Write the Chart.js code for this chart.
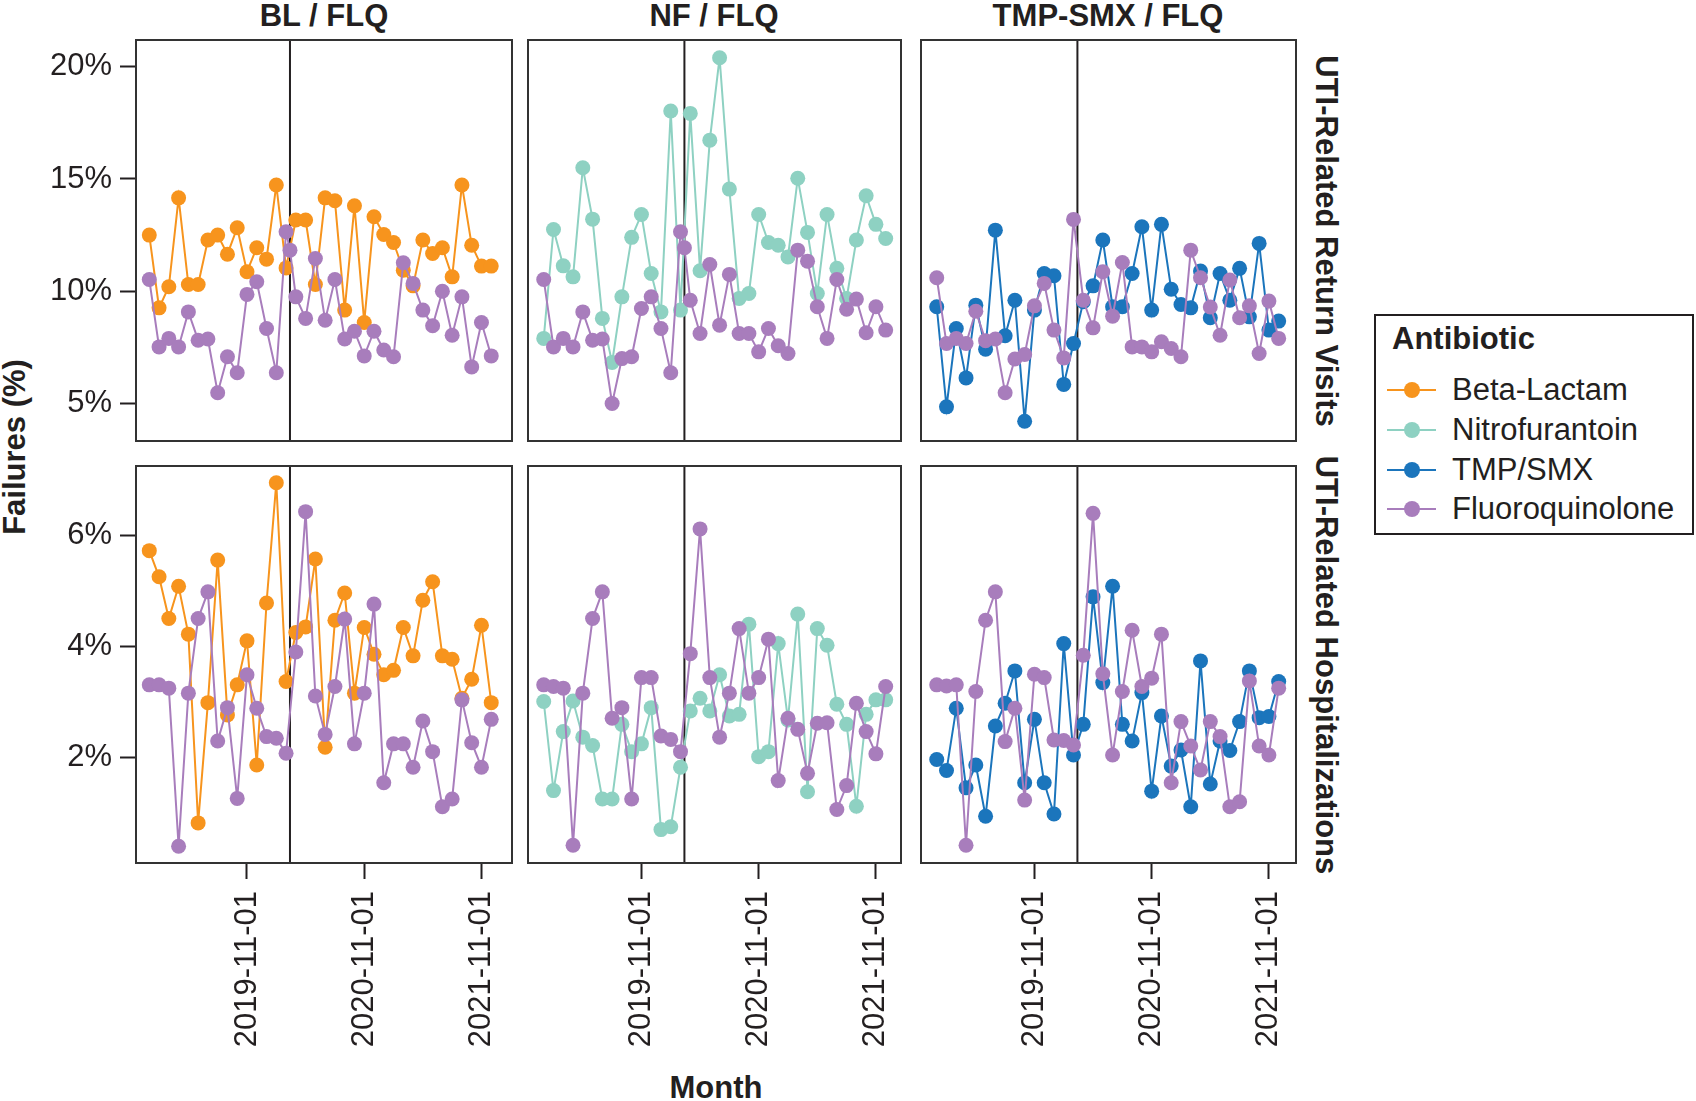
<!DOCTYPE html>
<html>
<head>
<meta charset="utf-8">
<script src="https://cdn.jsdelivr.net/npm/chart.js@4.4.1/dist/chart.umd.min.js"></script>
<style>
  body { margin: 0; background: #fff; }
  #fig { position: relative; width: 1696px; height: 1101px; overflow: hidden;
         font-family: "Liberation Sans", Arial, Helvetica, sans-serif; color: #231f20; }
  #fig canvas { position: absolute; }
  .lbl { position: absolute; white-space: nowrap; font-weight: bold; font-size: 31px; line-height: 1;
         transform: translate(-50%, -50%); }
  .cw { transform: translate(-50%, -50%) rotate(90deg); }
  .ccw { transform: translate(-50%, -50%) rotate(-90deg); }
  #legend { position: absolute; left: 1374px; top: 314px; width: 320px; height: 221px;
            border: 2px solid #231f20; box-sizing: border-box; }
  #legend .ttl { position: absolute; left: 16px; top: 7px; font-weight: bold; font-size: 31px; line-height: 1; }
  #legend .item { position: absolute; left: 0; width: 100%; height: 32px; }
  #legend .ln { position: absolute; left: 11px; top: 15px; width: 49px; height: 2px; }
  #legend .dot { position: absolute; left: 28px; top: 8px; width: 16px; height: 16px; border-radius: 50%; }
  #legend .tx { position: absolute; left: 76px; top: 0; font-size: 31px; line-height: 32px; white-space: nowrap; }
</style>
</head>
<body>
<div id="fig">
  <div class="lbl" style="left:324px; top:15px">BL / FLQ</div>
  <div class="lbl" style="left:714px; top:15px">NF / FLQ</div>
  <div class="lbl" style="left:1108px; top:15px">TMP-SMX / FLQ</div>
  <div class="lbl cw" style="left:1326px; top:241px">UTI-Related Return Visits</div>
  <div class="lbl cw" style="left:1326px; top:665px">UTI-Related Hospitalizations</div>
  <div class="lbl ccw" style="left:14px; top:447px">Failures (%)</div>
  <div class="lbl" style="left:716px; top:1087px">Month</div>
  <div id="legend"><div class="ttl">Antibiotic</div></div>
</div>
<script>
// months since 2019-01 (0 = Jan 2019 ... 35 = Dec 2021)
const monthX = [0, 1, 2, 3, 4, 5, 6, 7, 8, 9, 10, 11, 12, 13, 14, 15, 16, 17,
                18, 19, 20, 21, 22, 23, 24, 25, 26, 27, 28, 29, 30, 31, 32, 33, 34, 35];
// FLQ return-visit series carry an extra point on the intervention date
const splitX = [0, 1, 2, 3, 4, 5, 6, 7, 8, 9, 10, 11, 12, 13, 14, 14.4, 15, 16, 17,
                18, 19, 20, 21, 22, 23, 24, 25, 26, 27, 28, 29, 30, 31, 32, 33, 34, 35];
const tickMonths = [10, 22, 34];
const tickLabels = ['2019-11-01', '2020-11-01', '2021-11-01'];
const interventionMonth = 14.4;

const returnTicks = [5, 10, 15, 20];
const hospTicks = [2, 4, 6];

const seriesNames = ['Beta-Lactam', 'Nitrofurantoin', 'TMP/SMX', 'Fluoroquinolone'];
const seriesColors = ['#f7941d', '#8ed1c2', '#1b75bc', '#a87dbc'];

// UTI-related return visits (%)
const blReturn = [12.5, 9.26, 10.2, 14.16, 10.3, 10.3, 12.28, 12.5, 11.65, 12.83, 10.87, 11.94,
                  11.43, 14.73, 11.04, 13.17, 13.17, 10.3, 14.16, 14.03, 9.16, 13.81, 8.61, 13.32,
                  12.53, 12.17, 10.94, 10.24, 12.28, 11.68, 11.94, 10.64, 14.73, 12.05, 11.12, 11.12];
const flqReturnBL = [10.52, 7.52, 7.9, 7.52, 9.08, 7.82, 7.87, 5.48, 7.08, 6.37, 9.86, 10.42,
                     8.34, 6.37, 12.65, 11.83, 9.75, 8.79, 11.46, 8.71, 10.52, 7.87, 8.22, 7.12,
                     8.22, 7.38, 7.08, 11.27, 10.35, 9.16, 8.46, 10.0, 8.04, 9.75, 6.63, 8.61, 7.12];
const nfReturn = [7.9, 12.75, 11.13, 10.64, 15.5, 13.21, 8.79, 6.83, 9.75, 12.4, 13.42, 10.79,
                  9.08, 18.03, 9.16, 17.92, 10.91, 16.73, 20.4, 14.55, 9.68, 9.9, 13.42, 12.17,
                  12.05, 11.53, 15.03, 12.62, 9.9, 13.42, 11.02, 9.68, 12.28, 14.25, 12.98, 12.35];
const flqReturnNF = [10.52, 7.52, 7.9, 7.52, 9.08, 7.82, 7.87, 5.0, 7.0, 7.08, 9.23, 9.75,
                     8.34, 6.37, 12.65, 11.94, 9.6, 8.12, 11.19, 8.49, 10.75, 8.12, 8.12, 7.3,
                     8.34, 7.57, 7.23, 11.83, 11.34, 9.31, 7.9, 10.52, 9.2, 9.65, 8.15, 9.31, 8.27];
const tmpReturn = [9.31, 4.85, 8.34, 6.14, 9.38, 7.42, 12.72, 8.02, 9.6, 4.21, 9.16, 10.79,
                   10.69, 5.85, 7.67, 9.53, 10.24, 12.28, 9.31, 9.31, 10.79, 12.87, 9.16, 12.98,
                   10.09, 9.41, 9.26, 10.9, 8.82, 10.79, 9.6, 11.02, 8.86, 12.13, 8.27, 8.67];
const flqReturnTMP = [10.6, 7.67, 7.9, 7.67, 9.11, 7.8, 7.87, 5.48, 6.98, 7.18, 9.35, 10.35,
                      8.27, 7.03, 13.2, 9.6, 8.37, 10.87, 8.89, 11.28, 7.52, 7.52, 7.3, 7.75,
                      7.45, 7.08, 11.83, 10.6, 9.3, 8.04, 10.5, 8.82, 9.35, 7.23, 9.56, 7.9];

// UTI-related hospitalizations (%)
const blHosp = [5.72, 5.25, 4.5, 5.08, 4.22, 0.83, 2.99, 5.55, 2.77, 3.31, 4.1, 1.87,
                4.78, 6.94, 3.37, 4.25, 4.35, 5.57, 2.19, 4.47, 4.96, 3.16, 4.34, 3.86,
                3.49, 3.57, 4.34, 3.83, 4.83, 5.16, 3.83, 3.77, 3.07, 3.41, 4.38, 2.99];
const flqHospBL = [3.31, 3.31, 3.25, 0.41, 3.16, 4.5, 4.98, 2.3, 2.9, 1.27, 3.49, 2.89,
                   2.38, 2.35, 2.08, 3.9, 6.42, 3.11, 2.42, 3.28, 4.49, 2.25, 3.16, 4.76,
                   1.55, 2.25, 2.25, 1.83, 2.66, 2.11, 1.12, 1.26, 3.04, 2.27, 1.83, 2.69];
const nfHosp = [3.01, 1.41, 2.47, 3.02, 2.37, 2.22, 1.26, 1.26, 2.6, 2.11, 2.25, 2.9,
                0.71, 0.76, 1.83, 2.84, 3.07, 2.84, 3.49, 2.75, 2.78, 4.4, 2.02, 2.11,
                4.05, 2.68, 4.58, 1.39, 4.32, 4.02, 2.96, 2.6, 1.13, 2.78, 3.04, 3.04];
const flqHospNF = [3.31, 3.28, 3.25, 0.43, 3.16, 4.5, 4.98, 2.71, 2.9, 1.26, 3.44, 3.44,
                   2.39, 2.33, 2.11, 3.87, 6.11, 3.44, 2.37, 3.16, 4.32, 3.16, 3.44, 4.13,
                   1.59, 2.71, 2.51, 1.72, 2.62, 2.63, 1.07, 1.5, 2.98, 2.47, 2.07, 3.28];
const tmpHosp = [1.97, 1.77, 2.89, 1.46, 1.87, 0.95, 2.57, 2.98, 3.56, 1.55, 2.69, 1.55,
                 0.99, 4.05, 2.05, 2.6, 4.89, 3.35, 5.08, 2.6, 2.3, 3.17, 1.4, 2.75,
                 1.85, 2.14, 1.12, 3.74, 1.53, 2.3, 2.13, 2.65, 3.56, 2.72, 2.74, 3.37];
const flqHospTMP = [3.31, 3.29, 3.31, 0.43, 3.19, 4.47, 4.98, 2.29, 2.89, 1.24, 3.5, 3.44,
                    2.32, 2.31, 2.23, 3.84, 6.39, 3.51, 2.05, 3.19, 4.29, 3.28, 3.43, 4.22,
                    1.55, 2.65, 2.21, 1.78, 2.65, 2.38, 1.12, 1.21, 3.38, 2.21, 2.05, 3.25];

// panel geometry (pixels)
const colLeft = [136, 528, 921];
const colWidth = [376, 373, 375];
const rowTop = [40, 466];
const rowHeight = [401, 397];
const xFirstOffset = [-1.36, -1.61, -1.61];
const pxPerMonth = 9.77;
const yRange = [[3.33, 21.19], [0.11, 7.24]];
const ink = '#231f20';

Chart.defaults.font.family = '"Liberation Sans", Arial, Helvetica, sans-serif';
Chart.defaults.color = ink;

const panels = [
  { row: 0, col: 0, comp: blReturn, compColor: 0, flq: flqReturnBL, flqX: splitX },
  { row: 0, col: 1, comp: nfReturn, compColor: 1, flq: flqReturnNF, flqX: splitX },
  { row: 0, col: 2, comp: tmpReturn, compColor: 2, flq: flqReturnTMP, flqX: monthX },
  { row: 1, col: 0, comp: blHosp, compColor: 0, flq: flqHospBL, flqX: monthX },
  { row: 1, col: 1, comp: nfHosp, compColor: 1, flq: flqHospNF, flqX: monthX },
  { row: 1, col: 2, comp: tmpHosp, compColor: 2, flq: flqHospTMP, flqX: monthX }
];

const frame = {
  id: 'frame',
  beforeDatasetsDraw(chart) {
    const { ctx, chartArea: a, scales } = chart;
    const vx = scales.x.getPixelForValue(interventionMonth);
    ctx.save();
    ctx.strokeStyle = ink; ctx.lineWidth = 2;
    ctx.beginPath(); ctx.moveTo(vx, a.top); ctx.lineTo(vx, a.bottom); ctx.stroke();
    ctx.restore();
  },
  afterDraw(chart) {
    const { ctx, chartArea: a } = chart;
    ctx.save();
    ctx.strokeStyle = '#333'; ctx.lineWidth = 2;
    ctx.strokeRect(a.left, a.top, a.right - a.left, a.bottom - a.top);
    ctx.restore();
  }
};

function toPoints(xs, ys) {
  return ys.map((y, i) => ({ x: xs[i], y }));
}

function makePanel(p) {
  const M = 40; // room so tick-label padding never eats into the plot area
  const left = colLeft[p.col], top = rowTop[p.row];
  const w = colWidth[p.col], h = rowHeight[p.row];
  const showY = p.col === 0, showX = p.row === 1;
  const cLeft = showY ? 0 : left - M;
  const cTop = top - M;
  const cRight = left + w + M;
  const cBottom = showX ? 1101 : top + h + M;

  const canvas = document.createElement('canvas');
  canvas.width = cRight - cLeft; canvas.height = cBottom - cTop;
  canvas.style.left = cLeft + 'px'; canvas.style.top = cTop + 'px';
  canvas.style.width = canvas.width + 'px'; canvas.style.height = canvas.height + 'px';
  document.getElementById('fig').appendChild(canvas);

  const xMin = xFirstOffset[p.col];
  const yTicks = p.row === 0 ? returnTicks : hospTicks;
  const flqColor = seriesColors[3], compColor = seriesColors[p.compColor];
  const axisGrid = { display: true, drawOnChartArea: false, drawTicks: true, tickLength: 16, tickWidth: 2, color: ink };

  return new Chart(canvas, {
    type: 'line',
    data: {
      datasets: [
        { label: seriesNames[3], data: toPoints(p.flqX, p.flq), borderColor: flqColor,
          backgroundColor: flqColor, pointBackgroundColor: flqColor, order: 0 },
        { label: seriesNames[p.compColor], data: toPoints(monthX, p.comp), borderColor: compColor,
          backgroundColor: compColor, pointBackgroundColor: compColor, order: 1 }
      ]
    },
    options: {
      responsive: false, animation: false, devicePixelRatio: 1,
      layout: { padding: { left: showY ? 0 : M, right: M, top: M, bottom: showX ? 0 : M } },
      elements: {
        line: { borderWidth: 2, tension: 0 },
        point: { radius: 7.5, hoverRadius: 7.5, borderWidth: 0 }
      },
      plugins: { legend: { display: false }, tooltip: { enabled: false } },
      scales: {
        x: {
          type: 'linear', min: xMin, max: xMin + w / pxPerMonth, display: showX,
          afterBuildTicks: s => { s.ticks = tickMonths.map(v => ({ value: v })); },
          afterFit: s => { s.height = showX ? 1101 - (top + h) : 0; },
          ticks: { callback: v => tickLabels[tickMonths.indexOf(v)], minRotation: 90, maxRotation: 90,
                   autoSkip: false, padding: 12, font: { size: 31 }, color: ink },
          grid: axisGrid, border: { display: false }
        },
        y: {
          min: yRange[p.row][0], max: yRange[p.row][1], display: showY,
          afterBuildTicks: s => { s.ticks = yTicks.map(v => ({ value: v })); },
          afterFit: s => { s.width = showY ? colLeft[0] : 0; },
          ticks: { callback: v => v + '%', padding: 8, font: { size: 31 }, color: ink },
          grid: axisGrid, border: { display: false }
        }
      }
    },
    plugins: [frame]
  });
}

panels.forEach(makePanel);

// legend
const legend = document.getElementById('legend');
const legendTops = [58, 98, 138, 177];
seriesNames.forEach((name, i) => {
  const item = document.createElement('div');
  item.className = 'item';
  item.style.top = legendTops[i] + 'px';
  item.innerHTML = '<span class="ln" style="background:' + seriesColors[i] + '"></span>' +
                   '<span class="dot" style="background:' + seriesColors[i] + '"></span>' +
                   '<span class="tx">' + name + '</span>';
  legend.appendChild(item);
});
</script>
</body>
</html>
